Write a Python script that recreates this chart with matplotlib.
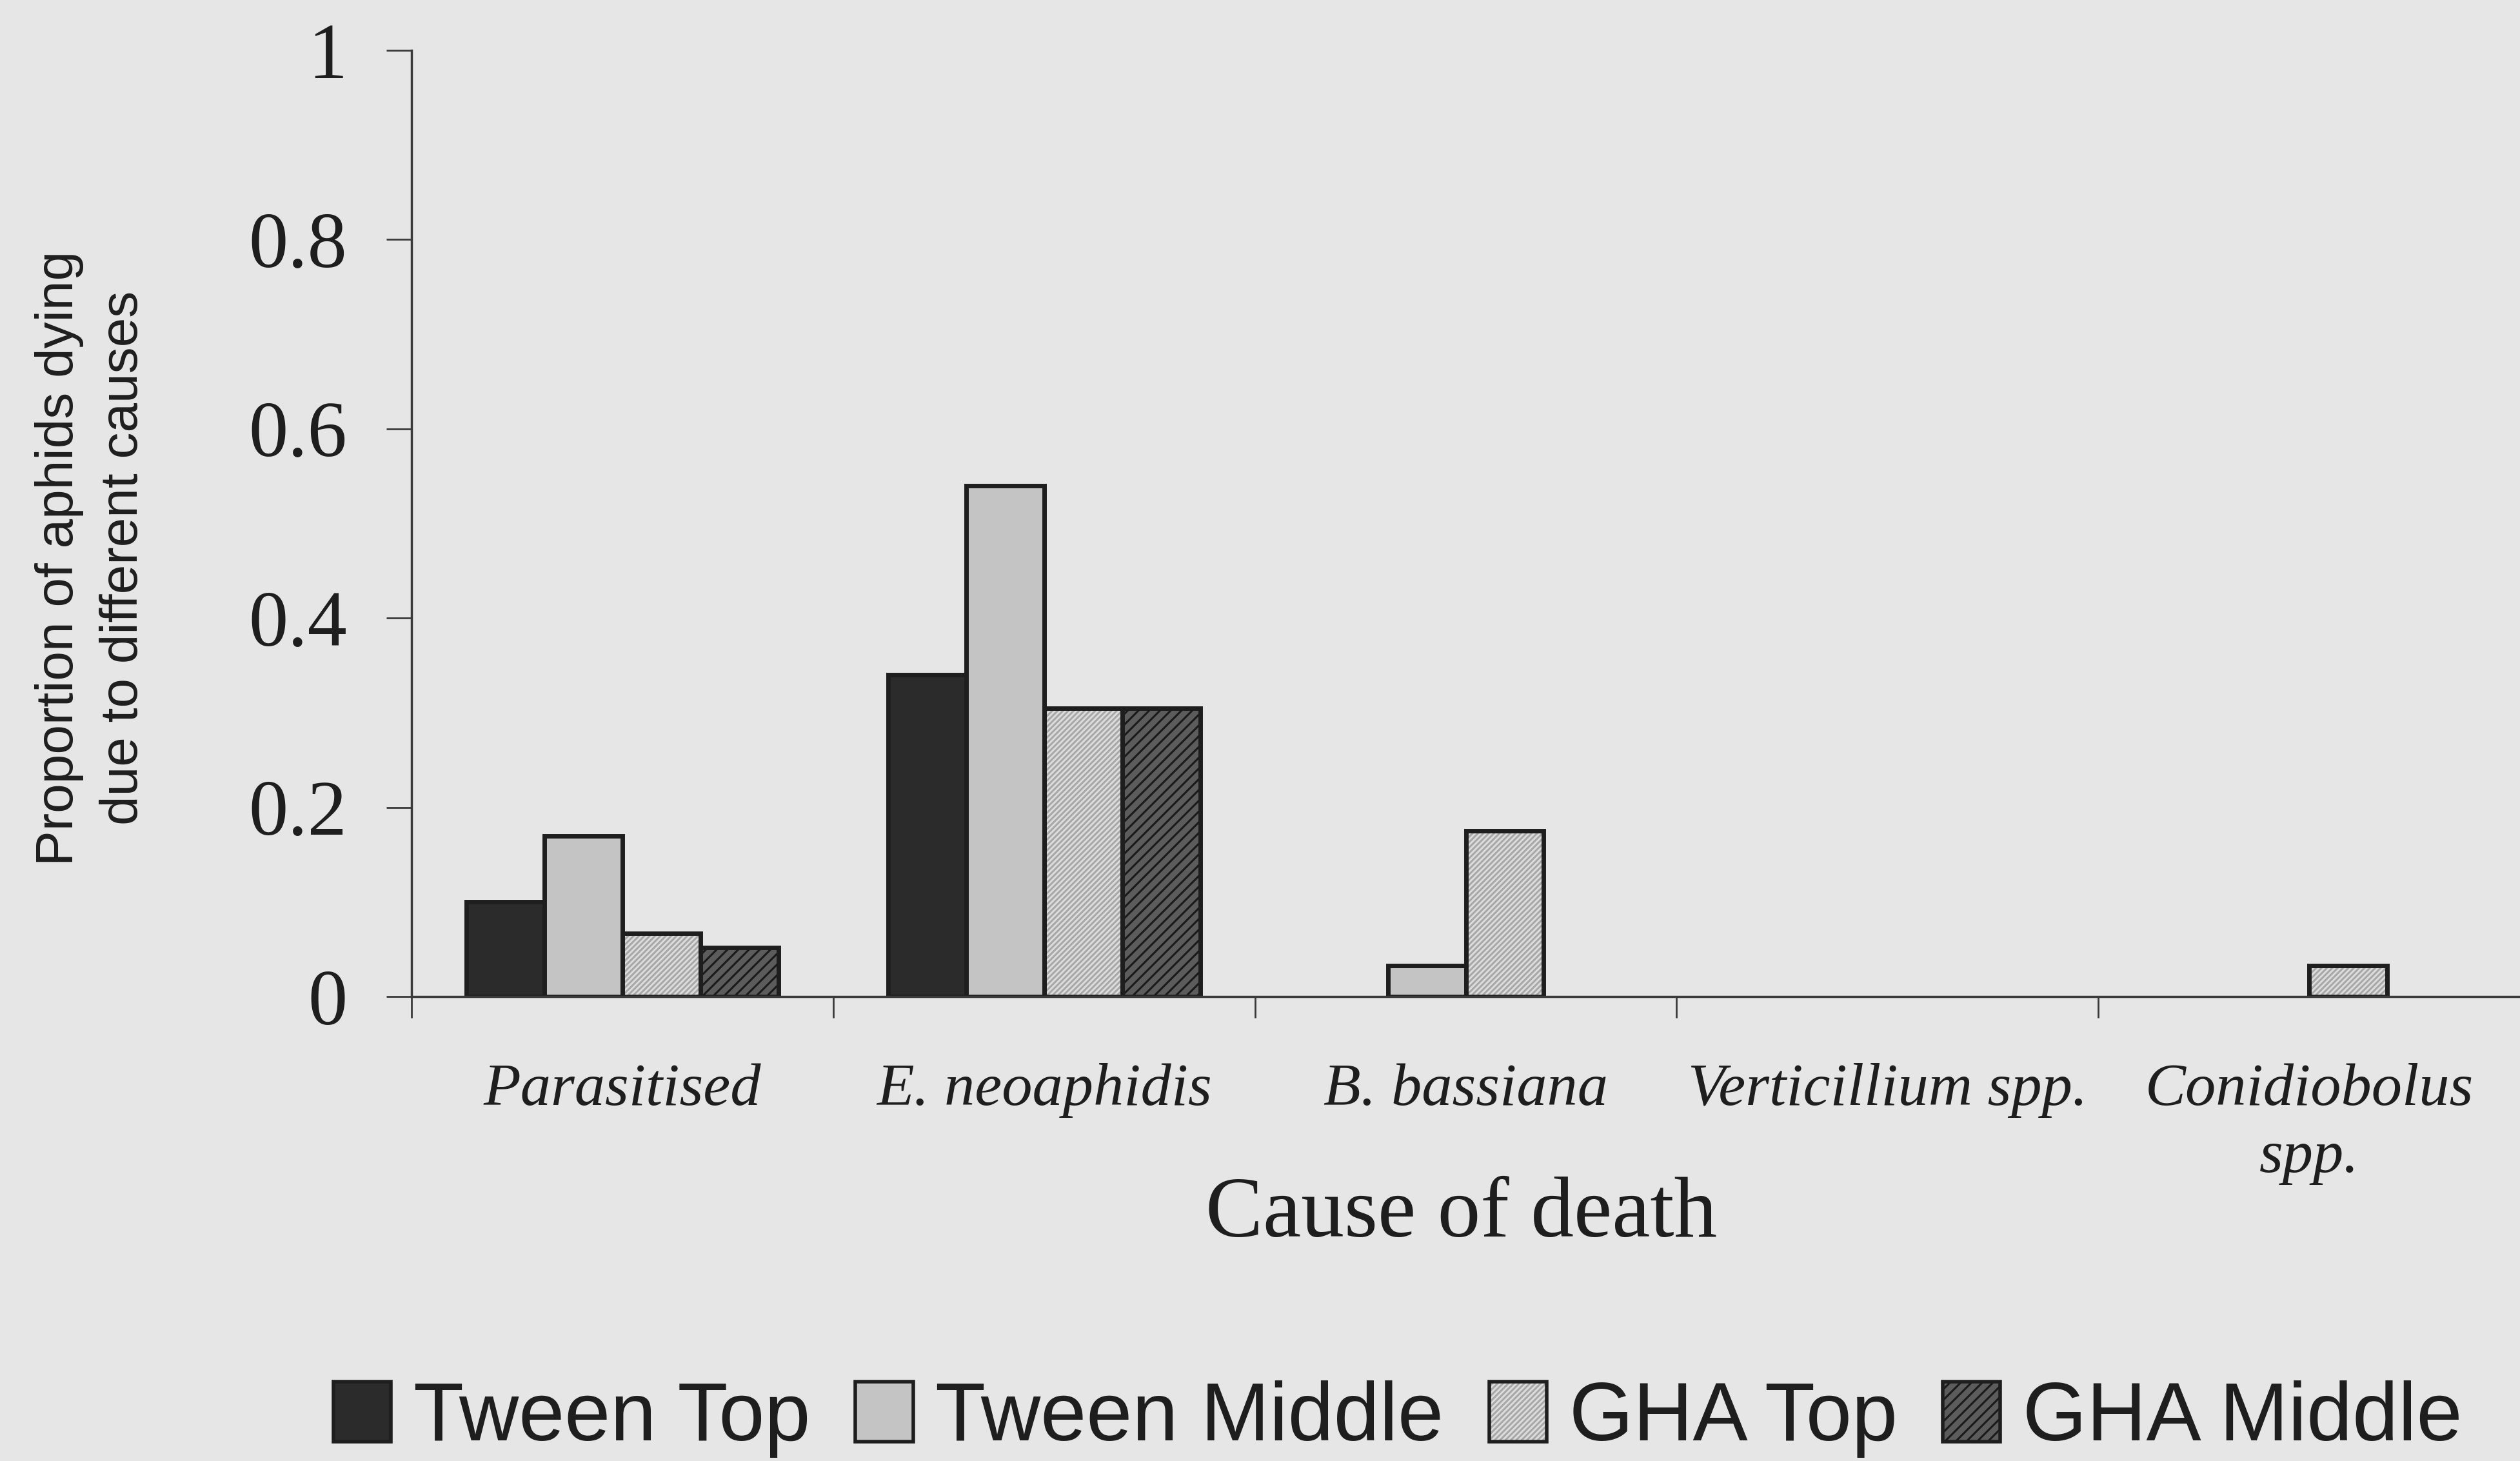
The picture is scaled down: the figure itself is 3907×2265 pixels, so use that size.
import numpy as np
import matplotlib
matplotlib.use("Agg")
import matplotlib.pyplot as plt
import matplotlib.patches as mpatches
from matplotlib.legend_handler import HandlerTuple

# proportion of aphids dying from each cause, per leaf treatment
causes = ["Parasitised", "E. neoaphidis", "B. bassiana", "Verticillium spp.", "Conidiobolus\nspp."]
series = ["Tween Top", "Tween Middle", "GHA Top", "GHA Middle"]
tween_top = [0.10, 0.34, 0.0, 0.0, 0.0]
tween_middle = [0.17, 0.54, 0.033, 0.0, 0.0]
gha_top = [0.067, 0.305, 0.175, 0.0, 0.033]
gha_middle = [0.052, 0.305, 0.0, 0.0, 0.0]
yticks = [0, 0.2, 0.4, 0.6, 0.8, 1]
ytick_labels = ["0", "0.2", "0.4", "0.6", "0.8", "1"]

values = [tween_top, tween_middle, gha_top, gha_middle]
fills = ["#2b2b2b", "#c4c4c4", "#dddddd", "#5c5c5c"]
hatches = ["", "", "////", "//"]
hatch_cols = ["#2b2b2b", "#c4c4c4", "#a8a8a8", "#1a1a1a"]

bg = "#e6e6e6"
ink = "#1e1e1e"
serif = ["Liberation Serif", "DejaVu Serif"]
sans = ["Liberation Sans", "DejaVu Sans"]

plt.rcParams["hatch.linewidth"] = 2.2

fig = plt.figure(figsize=(39.07, 22.65), dpi=100, facecolor=bg)
ax = fig.add_axes([0.1633, 0.3179, 0.8367, 0.6477])
ax.set_facecolor(bg)

x = np.arange(len(causes))
w = 0.185
handles = []
for i, vals in enumerate(values):
    vals = np.asarray(vals)
    keep = vals > 0  # empty categories get no outline
    pos = (x + (i - 1.5) * w)[keep]
    ax.bar(pos, vals[keep], w, color=fills[i], hatch=hatches[i], edgecolor=hatch_cols[i], linewidth=0)
    ax.bar(pos, vals[keep], w, fill=False, edgecolor=ink, linewidth=5)
    h1 = mpatches.Patch(facecolor=fills[i], hatch=hatches[i], edgecolor=hatch_cols[i], linewidth=0)
    h2 = mpatches.Patch(fill=False, edgecolor=ink, linewidth=4)
    handles.append((h1, h2))

ax.set_xlim(-0.5, len(causes) - 0.5)
ax.set_ylim(0, 1)

for s in ["top", "right"]:
    ax.spines[s].set_visible(False)
for s in ["left", "bottom"]:
    ax.spines[s].set_color("#3a3a3a")
    ax.spines[s].set_linewidth(2.5)

ax.set_yticks(yticks)
ax.set_yticklabels(ytick_labels, fontfamily=serif, fontsize=88, color=ink)
ax.tick_params(axis="y", length=28, width=2, color="#3a3a3a", pad=44)

# category names sit between boundary ticks
ax.set_xticks(x)
ax.set_xticklabels(causes, fontfamily=serif, style="italic", fontsize=68, color=ink, linespacing=1.3)
ax.tick_params(axis="x", which="major", length=0, pad=74)
ax.set_xticks(np.arange(len(causes)) - 0.5, minor=True)
ax.tick_params(axis="x", which="minor", length=24, width=2, color="#3a3a3a")

fig.text(0.58, 1 - 1917 / 2265, "Cause of death", fontfamily=serif, fontsize=96,
         color=ink, ha="center", va="baseline")
fig.text(142 / 3907, 1 - 865 / 2265, "Proportion of aphids dying\ndue to different causes",
         fontfamily=sans, fontsize=59, color=ink, rotation=90, ha="center", va="center",
         multialignment="center", linespacing=1.4)

fig.legend(handles, series, handler_map={tuple: HandlerTuple(ndivide=1)},
           loc="center", bbox_to_anchor=(2167 / 3907, 1 - 2200 / 2265), ncol=4,
           frameon=False, prop={"family": sans, "size": 92}, labelcolor=ink,
           handlelength=0.7, handleheight=0.75, handletextpad=0.27, columnspacing=0.55,
           borderaxespad=0, borderpad=0)

fig.savefig("out.png", dpi=100, facecolor=bg)
